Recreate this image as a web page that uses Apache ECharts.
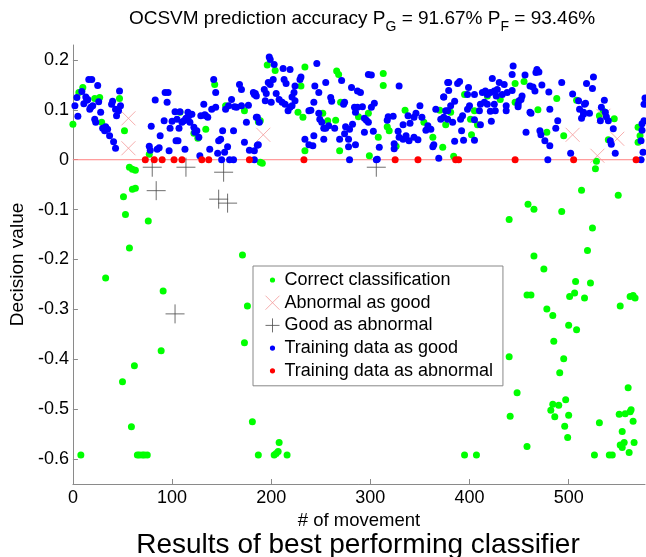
<!DOCTYPE html>
<html><head><meta charset="utf-8">
<script src="https://cdn.jsdelivr.net/npm/echarts@6/dist/echarts.min.js"></script>
<style>html,body{margin:0;padding:0;background:#fff}#c{width:646px;height:557px}</style>
</head><body><div id="c"></div>
<script>
const xTicks = [0, 100, 200, 300, 400, 500];
const yTicks = [-0.6, -0.5, -0.4, -0.3, -0.2, -0.1, 0, 0.1, 0.2];
const zeroLine = [[0, 0], [577, 0]];

const correctClassification = [
[0,0.071],[6,0.135],[10,0.145],[22,0.123],[27,0.125],[29,0.075],[47,0.123],[52,0.058],[57,-0.015],[60,-0.019],[63,-0.021],[77,0.011],[108,0.095],[122,0.053],[126,0.043],[134,0.061],[143,0.151],[154,0.108],[173,0.098],[187,0.076],[189,-0.005],
[189,0.078],[191,-0.007],[196,0.19],[204,0.179],[227,0.095],[230,0.148],[232,0.085],[234,0.186],[234,0.018],[252,0.093],[257,0.078],[265,0.079],[266,0.178],[268,0.171],[269,0.018],[270,0.115],[288,0.086],[298,0.093],[299,0.008],[308,0.045],[313,0.173],[313,0.149],[317,0.066],[319,0.058],[326,0.027],[335,0.099],[354,0.075],[363,0.045],[370,0.099],[373,0.025],[376,0.07],
[381,0.095],[384,0.007],[395,0.131],[401,0.081],[405,0.098],[408,0.07],[402,0.05],[418,0.128],[431,0.121],[446,0.153],[446,0.115],[455,0.157],[469,0.1],[478,0.055],[488,0.123],[495,0.048],[508,0.119],[531,0.088],[535,0.097],[540,0.04],[546,0.082],[528,-0.003],[527,-0.018],[570,0.065],[572,0.048],[570,0.035],
[51,-0.074],[53,-0.11],[57,-0.177],[60,-0.059],[63,-0.057],[76,-0.123],[33,-0.237],[91,-0.263],[171,-0.191],[176,-0.293],[173,-0.367],[8,-0.592],[65,-0.592],[67,-0.592],[70,-0.592],[72,-0.592],[75,-0.592],[50,-0.445],[62,-0.413],[89,-0.383],[59,-0.535],[181,-0.525],[187,-0.592],[203,-0.592],[205,-0.589],[207,-0.585],[208,-0.567],[216,-0.592],
[513,-0.061],[550,-0.071],[459,-0.089],[465,-0.099],[493,-0.104],[440,-0.12],[524,-0.137],[519,-0.182],[465,-0.193],[475,-0.219],[507,-0.244],[522,-0.247],[458,-0.271],[462,-0.271],[501,-0.274],[506,-0.267],[516,-0.277],[562,-0.274],[567,-0.277],[565,-0.272],[552,-0.293],[478,-0.299],[484,-0.312],[500,-0.332],[508,-0.341],[485,-0.364],
[440,-0.395],[495,-0.399],[491,-0.427],[448,-0.467],[560,-0.457],[484,-0.49],[490,-0.492],[482,-0.502],[497,-0.481],[500,-0.512],[486,-0.515],[441,-0.514],[496,-0.534],[499,-0.557],[458,-0.575],[395,-0.592],[407,-0.592],[526,-0.592],[541,-0.592],[544,-0.592],[531,-0.527],[551,-0.51],[557,-0.509],[562,-0.505],[563,-0.501],[565,-0.524],[554,-0.545],[556,-0.567],[552,-0.572],[554,-0.577],[566,-0.567],[561,-0.587]
];

const abnormalAsGood = [[56,0.083],[56,0.023],[192,0.05],[504,0.05],[529,0.008],[549,0.042],[535,0.088]];

const goodAsAbnormal = [[80,-0.015],[114,-0.015],[152,-0.025],[84,-0.062],[147,-0.079],[156,-0.087],[103,-0.309],[306,-0.015]];

const trainingAsGood = [
[2,0.108],[4,0.125],[5,0.087],[9,0.137],[11,0.112],[13,0.126],[14,0.119],[15,0.121],[16,0.161],[19,0.161],[17,0.101],[18,0.105],[20,0.108],[22,0.081],[23,0.075],[25,0.149],[26,0.116],[28,0.095],[30,0.063],[32,0.058],[33,0.066],[35,0.061],[37,0.048],[39,0.111],[40,0.117],[41,0.036],[43,0.023],[43,0.101],[44,0.088],[47,0.138],[48,0.108],[46,0.098],
[79,0.067],[77,0.027],[78,0.019],[83,0.12],[85,0.021],[87,0.024],[88,0.048],[92,0.078],[93,0.135],[96,0.135],[95,0.115],[97,0.018],[98,0.063],[100,0.077],[103,0.096],[104,0.038],[106,0.038],[105,0.081],[107,0.063],[108,0.096],[110,0.075],[112,0.078],[113,0.021],[114,0.083],[116,0.095],[117,0.088],[118,0.075],[120,0.091],[122,0.065],[123,0.055],[125,0.058],[127,0.045],[128,0.008],[129,0.088],[132,0.111],[133,0.09],[134,0.088],[136,0.085],[138,0.021],[140,0.101],[142,0.161],[144,0.135],[144,0.105],[146,0.013],[147,0.038],[149,0.041],[151,0.058],[153,0.015],[154,0.101],[156,0.026],[157,0.108],[160,0.121],[162,0.058],[163,0.106],[165,0.105],[168,0.151],[170,0.141],[170,0.108],[173,0.035],[175,0.075],[177,0.109],[178,0.019],[182,0.135],[183,0.131],[185,0.085],[186,0.029],
[150,0],[158,0],[162,0],[183,0],[279,0],[306,0],[369,0.003],[479,0],[573,0],
[198,0.206],[199,0.201],[203,0.191],[212,0.183],[219,0.181],[246,0.193],[230,0.166],[229,0.161],[197,0.155],[199,0.151],[202,0.161],[213,0.161],[215,0.153],[184,0.133],[185,0.128],[193,0.141],[195,0.133],[194,0.118],[200,0.115],[205,0.133],[208,0.121],[211,0.115],[214,0.111],[224,0.148],[223,0.135],[221,0.126],[224,0.118],[221,0.108],[219,0.105],[217,0.098],[244,0.148],[248,0.135],[255,0.155],[271,0.159],[281,0.145],[287,0.138],[290,0.135],[243,0.115],[260,0.125],[261,0.117],[273,0.111],[274,0.115],[298,0.171],[301,0.17],[329,0.148],[186,0.085],[188,0.075],[238,0.098],[240,0.099],[248,0.093],[249,0.081],[251,0.075],[258,0.068],[253,0.063],[255,0.063],[264,0.063],[275,0.066],[279,0.061],[282,0.071],[284,0.105],[287,0.105],[292,0.106],[294,0.083],[296,0.079],[298,0.075],[301,0.105],[304,0.113],[285,0.095],[317,0.079],[318,0.086],[323,0.087],[328,0.057],[333,0.07],[338,0.088],[340,0.073],[344,0.085],[346,0.093],[350,0.108],[352,0.085],[356,0.059],[358,0.068],[361,0.061],[366,0.101],[371,0.081],[374,0.085],[378,0.098],[379,0.139],[374,0.126],[378,0.155],[234,0.041],[238,0.03],[242,0.028],[243,0.048],[253,0.041],[269,0.041],[274,0.052],[278,0.041],[285,0.03],[278,0.026],[294,0.055],[303,0.057],[309,0.025],[324,0.032],[324,0.022],[329,0.045],[333,0.041],[336,0.048],[339,0.038],[344,0.045],[348,0.04],[363,0.026],[364,0.03],[183,0.018],[187,0.03],[307,0.001],
[444,0.188],[443,0.171],[456,0.17],[468,0.181],[470,0.176],[467,0.175],[423,0.163],[430,0.155],[435,0.151],[379,0.155],[388,0.153],[390,0.157],[399,0.145],[398,0.131],[405,0.131],[413,0.135],[416,0.138],[418,0.131],[421,0.135],[425,0.138],[428,0.141],[427,0.128],[433,0.131],[438,0.135],[443,0.139],[453,0.128],[461,0.148],[464,0.146],[473,0.15],[493,0.155],[518,0.153],[525,0.166],[524,0.143],[480,0.136],[504,0.132],[374,0.126],[381,0.108],[385,0.117],[376,0.098],[400,0.108],[398,0.101],[411,0.111],[410,0.098],[415,0.115],[418,0.111],[421,0.097],[425,0.111],[426,0.098],[437,0.108],[437,0.098],[450,0.118],[452,0.121],[449,0.111],[449,0.106],[461,0.095],[481,0.101],[510,0.118],[511,0.101],[516,0.111],[515,0.095],[513,0.083],[521,0.093],[536,0.119],[533,0.105],[537,0.095],[538,0.086],[532,0.078],[540,0.078],[378,0.081],[383,0.075],[391,0.081],[393,0.088],[422,0.077],[411,0.07],[405,0.08],[392,0.058],[385,0.037],[394,0.039],[405,0.039],[457,0.055],[471,0.058],[472,0.05],[476,0.038],[481,0.028],[489,0.078],[487,0.063],[502,0.013],[545,0.062],[542,0.038],[543,0.031],[547,0.013],[577,0.124],[576,0.078],[574,0.072],[573,0.038],[575,0.015],
[466,0.138],[517,0.113],[515,0.091],[462,0.093],[576,0.111],[574,0.059]
];

const trainingAsAbnormal = [[73,0],[82,0],[90,0],[102,0],[110,0],[130,0],[137,0],[178,0],[233,0],[325,0],[348,0],[386,0],[389,0],[446,0],[505,0],[568,0]];

const FONT = 'Liberation Sans, Arial, sans-serif';
const GREEN = '#00ff00', BLUE = '#0000ff', RED = '#ff0000', PINK = '#f49a9a', GRAY = '#4a4a4a';
const X_PATH = 'path://M0,0L14,14M14,0L0,14';
const PLUS_PATH = 'path://M7,0L7,14M0,7L14,7';
const DOT_ICON = 'path://M0,0h0.01v0.01h-0.01zM14,14h0.01v0.01h-0.01zM4.4,7a2.6,2.6 0 1,0 5.2,0a2.6,2.6 0 1,0 -5.2,0z';

const chart = echarts.init(document.getElementById('c'), null, {renderer: 'canvas'});
const axisColor = '#8a8a8a';
chart.setOption({
  animation: false,
  backgroundColor: '#fff',
  textStyle: {fontFamily: FONT},
  title: [
    {
      text: 'OCSVM prediction accuracy P{s|G} = 91.67% P{s|F} = 93.46%',
      left: 362, top: 4, textAlign: 'center', padding: 0,
      textStyle: {fontFamily: FONT, fontSize: 19, fontWeight: 'normal', color: '#000', lineHeight: 30,
        rich: {s: {fontFamily: FONT, fontSize: 14, lineHeight: 14, padding: [16, 0, 0, 0], color: '#000'}}}
    },
    {
      text: 'Results of best performing classifier',
      left: 358, top: 531, textAlign: 'center', padding: 0,
      textStyle: {fontFamily: FONT, fontSize: 28, fontWeight: 'normal', color: '#000'}
    }
  ],
  grid: {left: 70, right: 1, top: 45, bottom: 73, containLabel: false},
  legend: {
    orient: 'vertical', left: 253, top: 266,
    padding: [5, 10, 6, 12], itemGap: 4.7, itemWidth: 14, itemHeight: 14,
    backgroundColor: '#fff', borderColor: '#888', borderWidth: 1, borderRadius: 0,
    textStyle: {fontFamily: FONT, fontSize: 18, color: '#000', lineHeight: 18},
    data: [
      {name: 'Correct classification', icon: DOT_ICON, itemStyle: {color: GREEN, borderWidth: 0}},
      {name: 'Abnormal as good', icon: X_PATH, itemStyle: {color: 'rgba(0,0,0,0)', borderColor: PINK, borderWidth: 1}},
      {name: 'Good as abnormal', icon: PLUS_PATH, itemStyle: {color: 'rgba(0,0,0,0)', borderColor: GRAY, borderWidth: 1}},
      {name: 'Training data as good', icon: DOT_ICON, itemStyle: {color: BLUE, borderWidth: 0}},
      {name: 'Training data as abnormal', icon: DOT_ICON, itemStyle: {color: RED, borderWidth: 0}}
    ]
  },
  xAxis: {
    type: 'value', min: 0, max: 577,
    name: '# of movement', nameLocation: 'middle', nameGap: 21,
    nameTextStyle: {fontFamily: FONT, fontSize: 18.5, color: '#000'},
    axisLine: {show: true, onZero: false, lineStyle: {color: axisColor, width: 1}},
    axisTick: {show: true, inside: true, length: 5, customValues: xTicks, lineStyle: {color: axisColor}},
    axisLabel: {show: true, customValues: xTicks, margin: 5, fontFamily: FONT, fontSize: 18, color: '#000'},
    splitLine: {show: false}
  },
  yAxis: {
    type: 'value', min: -0.65, max: 0.23,
    name: 'Decision value', nameLocation: 'middle', nameGap: 37, nameRotate: 90,
    nameTextStyle: {fontFamily: FONT, fontSize: 19, color: '#000'},
    axisLine: {show: true, onZero: false, lineStyle: {color: axisColor, width: 1}},
    axisTick: {show: true, inside: true, length: 5, customValues: yTicks, lineStyle: {color: axisColor}},
    axisLabel: {show: true, customValues: yTicks, margin: 4, fontFamily: FONT, fontSize: 18, color: '#000',
      formatter: v => (Math.abs(v) < 1e-9 ? '0' : String(Math.round(v * 10) / 10))},
    splitLine: {show: false}
  },
  series: [
    {type: 'line', name: 'zero', data: zeroLine, symbol: 'none', silent: true, z: 1,
      lineStyle: {color: '#ff8080', width: 1}},
    {type: 'scatter', name: 'Correct classification', data: correctClassification, symbol: 'circle', symbolSize: 7, z: 2,
      itemStyle: {color: GREEN, opacity: 1}},
    {type: 'scatter', name: 'Abnormal as good', data: abnormalAsGood, symbol: X_PATH, symbolSize: 14, z: 3,
      itemStyle: {color: 'rgba(0,0,0,0)', borderColor: PINK, borderWidth: 1}},
    {type: 'scatter', name: 'Good as abnormal', data: goodAsAbnormal, symbol: PLUS_PATH, symbolSize: 19, z: 3,
      itemStyle: {color: 'rgba(0,0,0,0)', borderColor: GRAY, borderWidth: 1}},
    {type: 'scatter', name: 'Training data as good', data: trainingAsGood, symbol: 'circle', symbolSize: 7, z: 4,
      itemStyle: {color: BLUE, opacity: 1}},
    {type: 'scatter', name: 'Training data as abnormal', data: trainingAsAbnormal, symbol: 'circle', symbolSize: 7, z: 5,
      itemStyle: {color: RED, opacity: 1}}
  ]
});
</script>
</body></html>
